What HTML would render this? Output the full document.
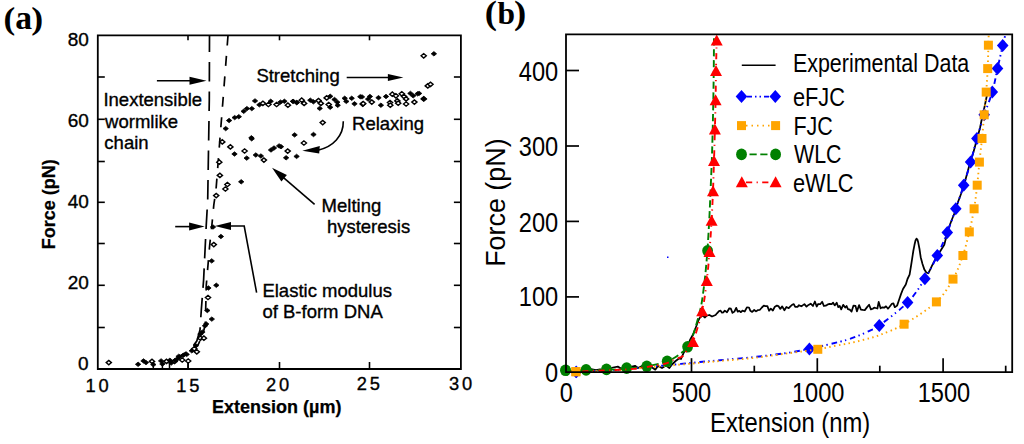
<!DOCTYPE html>
<html><head><meta charset="utf-8"><title>Force-extension figure</title>
<style>html,body{margin:0;padding:0;background:#fff;} svg{display:block;}</style></head>
<body><svg width="1024" height="444" viewBox="0 0 1024 444">
<rect width="1024" height="444" fill="#fff"/>
<text transform="translate(3.59,28.50) scale(1.1000,1)" style="font-family:'Liberation Serif',serif;font-size:32px;font-weight:bold" fill="#000">(</text>
<text transform="translate(15.19,28.50)" style="font-family:'Liberation Serif',serif;font-size:33.7px;font-weight:bold" fill="#000">a</text>
<text transform="translate(31.22,28.50) scale(1.1200,1)" style="font-family:'Liberation Serif',serif;font-size:32px;font-weight:bold" fill="#000">)</text>
<path d="M97.8,35.3 H460.9 V369.0 H97.8 Z" stroke="#000" stroke-width="1.8" fill="none" />
<line x1="97.8" y1="77.0" x2="104.8" y2="77.0" stroke="#000" stroke-width="1.6" />
<line x1="453.9" y1="77.0" x2="460.9" y2="77.0" stroke="#000" stroke-width="1.6" />
<line x1="97.8" y1="119.3" x2="104.8" y2="119.3" stroke="#000" stroke-width="1.6" />
<line x1="453.9" y1="119.3" x2="460.9" y2="119.3" stroke="#000" stroke-width="1.6" />
<line x1="97.8" y1="161.5" x2="104.8" y2="161.5" stroke="#000" stroke-width="1.6" />
<line x1="453.9" y1="161.5" x2="460.9" y2="161.5" stroke="#000" stroke-width="1.6" />
<line x1="97.8" y1="202.3" x2="104.8" y2="202.3" stroke="#000" stroke-width="1.6" />
<line x1="453.9" y1="202.3" x2="460.9" y2="202.3" stroke="#000" stroke-width="1.6" />
<line x1="97.8" y1="243.5" x2="104.8" y2="243.5" stroke="#000" stroke-width="1.6" />
<line x1="453.9" y1="243.5" x2="460.9" y2="243.5" stroke="#000" stroke-width="1.6" />
<line x1="97.8" y1="285.3" x2="104.8" y2="285.3" stroke="#000" stroke-width="1.6" />
<line x1="453.9" y1="285.3" x2="460.9" y2="285.3" stroke="#000" stroke-width="1.6" />
<line x1="97.8" y1="327.5" x2="104.8" y2="327.5" stroke="#000" stroke-width="1.6" />
<line x1="453.9" y1="327.5" x2="460.9" y2="327.5" stroke="#000" stroke-width="1.6" />
<line x1="188.0" y1="369.0" x2="188.0" y2="362.0" stroke="#000" stroke-width="1.6" />
<line x1="188.0" y1="35.3" x2="188.0" y2="40.3" stroke="#000" stroke-width="1.6" />
<line x1="279.5" y1="369.0" x2="279.5" y2="362.0" stroke="#000" stroke-width="1.6" />
<line x1="279.5" y1="35.3" x2="279.5" y2="40.3" stroke="#000" stroke-width="1.6" />
<line x1="369.5" y1="369.0" x2="369.5" y2="362.0" stroke="#000" stroke-width="1.6" />
<line x1="369.5" y1="35.3" x2="369.5" y2="40.3" stroke="#000" stroke-width="1.6" />
<text transform="translate(67.67,45.60)" style="font-family:'Liberation Sans',sans-serif;font-size:19px;font-weight:normal;stroke:#000;stroke-width:0.35px" fill="#000">80</text>
<text transform="translate(67.67,127.00)" style="font-family:'Liberation Sans',sans-serif;font-size:19px;font-weight:normal;stroke:#000;stroke-width:0.35px" fill="#000">60</text>
<text transform="translate(67.67,208.30)" style="font-family:'Liberation Sans',sans-serif;font-size:19px;font-weight:normal;stroke:#000;stroke-width:0.35px" fill="#000">40</text>
<text transform="translate(67.67,289.30)" style="font-family:'Liberation Sans',sans-serif;font-size:19px;font-weight:normal;stroke:#000;stroke-width:0.35px" fill="#000">20</text>
<text transform="translate(78.12,369.50)" style="font-family:'Liberation Sans',sans-serif;font-size:19px;font-weight:normal;stroke:#000;stroke-width:0.35px" fill="#000">0</text>
<text transform="translate(85.54,391.50)" style="font-family:'Liberation Sans',sans-serif;font-size:18.3px;font-weight:normal;letter-spacing:2.8px;stroke:#000;stroke-width:0.35px" fill="#000">10</text>
<text transform="translate(176.34,391.50)" style="font-family:'Liberation Sans',sans-serif;font-size:18.3px;font-weight:normal;letter-spacing:2.8px;stroke:#000;stroke-width:0.35px" fill="#000">15</text>
<text transform="translate(266.08,390.90)" style="font-family:'Liberation Sans',sans-serif;font-size:18.3px;font-weight:normal;letter-spacing:2.8px;stroke:#000;stroke-width:0.35px" fill="#000">20</text>
<text transform="translate(356.78,390.30)" style="font-family:'Liberation Sans',sans-serif;font-size:18.3px;font-weight:normal;letter-spacing:2.8px;stroke:#000;stroke-width:0.35px" fill="#000">25</text>
<text transform="translate(448.97,390.10)" style="font-family:'Liberation Sans',sans-serif;font-size:18.3px;font-weight:normal;letter-spacing:2.8px;stroke:#000;stroke-width:0.35px" fill="#000">30</text>
<text transform="translate(212.04,413.00)" style="font-family:'Liberation Sans',sans-serif;font-size:18px;font-weight:bold;stroke:#000;stroke-width:0.25px" fill="#000">Extension (µm)</text>
<text transform="translate(55.20,249.26) rotate(-90)" style="font-family:'Liberation Sans',sans-serif;font-size:18px;font-weight:bold;stroke:#000;stroke-width:0.25px">Force (pN)</text>
<text transform="translate(103.43,106.20)" style="font-family:'Liberation Sans',sans-serif;font-size:18.5px;font-weight:normal;stroke:#000;stroke-width:0.35px" fill="#000">Inextensible</text>
<text transform="translate(105.10,127.60)" style="font-family:'Liberation Sans',sans-serif;font-size:18.5px;font-weight:normal;stroke:#000;stroke-width:0.35px" fill="#000">wormlike</text>
<text transform="translate(104.36,149.00)" style="font-family:'Liberation Sans',sans-serif;font-size:18.5px;font-weight:normal;stroke:#000;stroke-width:0.35px" fill="#000">chain</text>
<text transform="translate(256.38,82.00)" style="font-family:'Liberation Sans',sans-serif;font-size:18.5px;font-weight:normal;stroke:#000;stroke-width:0.35px" fill="#000">Stretching</text>
<text transform="translate(352.02,130.00)" style="font-family:'Liberation Sans',sans-serif;font-size:18.5px;font-weight:normal;stroke:#000;stroke-width:0.35px" fill="#000">Relaxing</text>
<text transform="translate(321.62,211.50)" style="font-family:'Liberation Sans',sans-serif;font-size:18.5px;font-weight:normal;stroke:#000;stroke-width:0.35px" fill="#000">Melting</text>
<text transform="translate(326.90,233.40)" style="font-family:'Liberation Sans',sans-serif;font-size:18.5px;font-weight:normal;stroke:#000;stroke-width:0.35px" fill="#000">hysteresis</text>
<text transform="translate(262.42,297.10)" style="font-family:'Liberation Sans',sans-serif;font-size:18.5px;font-weight:normal;stroke:#000;stroke-width:0.35px" fill="#000">Elastic modulus</text>
<text transform="translate(262.46,318.30)" style="font-family:'Liberation Sans',sans-serif;font-size:18.5px;font-weight:normal;stroke:#000;stroke-width:0.35px" fill="#000">of B-form DNA</text>
<line x1="156.9" y1="80.8" x2="192.9" y2="80.8" stroke="#000" stroke-width="1.6" />
<polygon points="206.5,80.8 189.5,76.8 189.5,84.8" fill="#000"/>
<line x1="346.7" y1="77.5" x2="391.0" y2="77.5" stroke="#000" stroke-width="1.6" />
<polygon points="403.4,77.5 387.9,73.9 387.9,81.1" fill="#000"/>
<line x1="175.2" y1="226.6" x2="192.2" y2="226.6" stroke="#000" stroke-width="1.6" />
<polygon points="204.6,226.6 189.1,222.6 189.1,230.6" fill="#000"/>
<polygon points="214.8,226.0 231.0,221.9 231.0,230.1" fill="#000"/>
<path d="M229,226 H244.2 L256.6,292.7" stroke="#000" stroke-width="1.6" fill="none" />
<line x1="314.6" y1="204.4" x2="282.6190278541826" y2="176.92339012824144" stroke="#000" stroke-width="1.6" />
<polygon points="272.0,167.8 286.9,175.0 281.4,181.4" fill="#000"/>
<path d="M343.3,121.3 C343.5,136 333,147 318,150.2" stroke="#000" stroke-width="1.6" fill="none" />
<polygon points="302.3,150.8 319.8,146.0 319.2,153.6" fill="#000"/>
<path d="M209.5,35.5 L209.3,100 L208.5,150 L207.7,200 L206.2,226 L203.6,280 L201.3,310 L200.0,330 L196.8,341 L190,350 L180,356" stroke="#000" stroke-width="1.7" fill="none" stroke-dasharray="19.5,10" stroke-dashoffset="3"/>
<path d="M228,35.5 L223,100 L220,138 L216,190 L213.8,205 L211.7,227 L209.7,245 L206.3,285 L205.3,324 L203,334 L198,345 L190,352" stroke="#000" stroke-width="1.7" fill="none" stroke-dasharray="10,10.5" stroke-dashoffset="0"/>
<polygon points="106.2,362.6 108.8,360.4 111.4,362.6 108.8,364.8" fill="#fff" stroke="#000" stroke-width="1.4"/>
<polygon points="135.4,364.3 138.1,362.1 140.8,364.3 138.1,366.5" fill="#000" stroke="#000" stroke-width="0.8"/>
<polygon points="140.8,360.9 143.5,358.7 146.2,360.9 143.5,363.1" fill="#000" stroke="#000" stroke-width="0.8"/>
<polygon points="143.3,362.6 146.0,360.4 148.7,362.6 146.0,364.8" fill="#000" stroke="#000" stroke-width="0.8"/>
<polygon points="149.4,361.4 152.0,359.2 154.6,361.4 152.0,363.6" fill="#fff" stroke="#000" stroke-width="1.4"/>
<polygon points="150.6,364.6 153.3,362.4 156.0,364.6 153.3,366.8" fill="#000" stroke="#000" stroke-width="0.8"/>
<polygon points="158.4,360.9 161.1,358.7 163.8,360.9 161.1,363.1" fill="#000" stroke="#000" stroke-width="0.8"/>
<polygon points="159.7,364.0 162.4,361.8 165.1,364.0 162.4,366.2" fill="#000" stroke="#000" stroke-width="0.8"/>
<polygon points="163.9,361.4 166.5,359.2 169.1,361.4 166.5,363.6" fill="#fff" stroke="#000" stroke-width="1.4"/>
<polygon points="167.2,360.3 169.9,358.1 172.6,360.3 169.9,362.5" fill="#000" stroke="#000" stroke-width="0.8"/>
<polygon points="168.5,363.0 171.2,360.8 173.9,363.0 171.2,365.2" fill="#000" stroke="#000" stroke-width="0.8"/>
<polygon points="172.0,361.4 174.6,359.2 177.2,361.4 174.6,363.6" fill="#fff" stroke="#000" stroke-width="1.4"/>
<polygon points="172.4,360.5 175.1,358.3 177.8,360.5 175.1,362.7" fill="#000" stroke="#000" stroke-width="0.8"/>
<polygon points="174.6,358.9 177.3,356.7 180.0,358.9 177.3,361.1" fill="#000" stroke="#000" stroke-width="0.8"/>
<polygon points="175.9,356.4 178.6,354.2 181.3,356.4 178.6,358.6" fill="#000" stroke="#000" stroke-width="0.8"/>
<polygon points="176.8,356.8 179.5,354.6 182.2,356.8 179.5,359.0" fill="#000" stroke="#000" stroke-width="0.8"/>
<polygon points="179.6,360.0 182.2,357.8 184.8,360.0 182.2,362.2" fill="#fff" stroke="#000" stroke-width="1.4"/>
<polygon points="180.5,355.4 183.2,353.2 185.9,355.4 183.2,357.6" fill="#000" stroke="#000" stroke-width="0.8"/>
<polygon points="184.0,354.4 186.7,352.2 189.4,354.4 186.7,356.6" fill="#000" stroke="#000" stroke-width="0.8"/>
<polygon points="185.6,361.0 188.2,358.8 190.8,361.0 188.2,363.2" fill="#fff" stroke="#000" stroke-width="1.4"/>
<polygon points="189.1,350.8 191.8,348.6 194.5,350.8 191.8,353.0" fill="#000" stroke="#000" stroke-width="0.8"/>
<polygon points="191.7,348.8 194.3,346.6 196.9,348.8 194.3,351.0" fill="#fff" stroke="#000" stroke-width="1.4"/>
<polygon points="194.2,351.8 196.8,349.6 199.4,351.8 196.8,354.0" fill="#fff" stroke="#000" stroke-width="1.4"/>
<polygon points="193.1,345.8 195.8,343.6 198.5,345.8 195.8,348.0" fill="#000" stroke="#000" stroke-width="0.8"/>
<polygon points="197.7,334.1 200.4,331.9 203.1,334.1 200.4,336.3" fill="#000" stroke="#000" stroke-width="0.8"/>
<polygon points="199.7,332.1 202.4,329.9 205.1,332.1 202.4,334.3" fill="#000" stroke="#000" stroke-width="0.8"/>
<polygon points="197.8,338.2 200.4,336.0 203.0,338.2 200.4,340.4" fill="#fff" stroke="#000" stroke-width="1.4"/>
<polygon points="201.3,338.2 203.9,336.0 206.5,338.2 203.9,340.4" fill="#fff" stroke="#000" stroke-width="1.4"/>
<polygon points="202.3,325.8 205.0,323.6 207.7,325.8 205.0,328.0" fill="#000" stroke="#000" stroke-width="0.8"/>
<polygon points="203.5,324.0 206.2,321.8 208.9,324.0 206.2,326.2" fill="#000" stroke="#000" stroke-width="0.8"/>
<polygon points="209.1,319.1 211.8,316.9 214.5,319.1 211.8,321.3" fill="#000" stroke="#000" stroke-width="0.8"/>
<polygon points="204.6,310.5 207.3,308.3 210.0,310.5 207.3,312.7" fill="#000" stroke="#000" stroke-width="0.8"/>
<polygon points="205.4,297.5 208.0,295.3 210.6,297.5 208.0,299.7" fill="#fff" stroke="#000" stroke-width="1.4"/>
<polygon points="205.7,288.0 208.4,285.8 211.1,288.0 208.4,290.2" fill="#000" stroke="#000" stroke-width="0.8"/>
<polygon points="213.6,285.3 216.3,283.1 219.0,285.3 216.3,287.5" fill="#000" stroke="#000" stroke-width="0.8"/>
<polygon points="218.2,236.5 220.9,234.3 223.6,236.5 220.9,238.7" fill="#000" stroke="#000" stroke-width="0.8"/>
<polygon points="211.2,244.6 213.8,242.4 216.4,244.6 213.8,246.8" fill="#fff" stroke="#000" stroke-width="1.4"/>
<polygon points="209.0,260.9 211.7,258.7 214.4,260.9 211.7,263.1" fill="#000" stroke="#000" stroke-width="0.8"/>
<polygon points="210.3,227.0 213.0,224.8 215.7,227.0 213.0,229.2" fill="#000" stroke="#000" stroke-width="0.8"/>
<polygon points="216.7,162.2 219.3,160.0 221.9,162.2 219.3,164.4" fill="#fff" stroke="#000" stroke-width="1.4"/>
<polygon points="217.3,175.4 219.9,173.2 222.5,175.4 219.9,177.6" fill="#fff" stroke="#000" stroke-width="1.4"/>
<polygon points="224.8,184.5 227.4,182.3 230.0,184.5 227.4,186.7" fill="#fff" stroke="#000" stroke-width="1.4"/>
<polygon points="222.8,189.0 225.4,186.8 228.0,189.0 225.4,191.2" fill="#fff" stroke="#000" stroke-width="1.4"/>
<polygon points="213.6,195.6 216.2,193.4 218.8,195.6 216.2,197.8" fill="#fff" stroke="#000" stroke-width="1.4"/>
<polygon points="238.5,181.8 241.2,179.6 243.9,181.8 241.2,184.0" fill="#000" stroke="#000" stroke-width="0.8"/>
<polygon points="223.0,128.6 225.7,126.4 228.4,128.6 225.7,130.8" fill="#000" stroke="#000" stroke-width="0.8"/>
<polygon points="226.4,120.5 229.1,118.3 231.8,120.5 229.1,122.7" fill="#000" stroke="#000" stroke-width="0.8"/>
<polygon points="232.0,117.6 234.7,115.4 237.4,117.6 234.7,119.8" fill="#000" stroke="#000" stroke-width="0.8"/>
<polygon points="236.1,116.7 238.8,114.5 241.5,116.7 238.8,118.9" fill="#000" stroke="#000" stroke-width="0.8"/>
<polygon points="241.0,111.3 243.7,109.1 246.4,111.3 243.7,113.5" fill="#000" stroke="#000" stroke-width="0.8"/>
<polygon points="244.2,108.6 246.9,106.4 249.6,108.6 246.9,110.8" fill="#000" stroke="#000" stroke-width="0.8"/>
<polygon points="249.1,108.6 251.8,106.4 254.5,108.6 251.8,110.8" fill="#000" stroke="#000" stroke-width="0.8"/>
<polygon points="252.3,100.9 255.0,98.7 257.7,100.9 255.0,103.1" fill="#000" stroke="#000" stroke-width="0.8"/>
<polygon points="256.7,104.8 259.4,102.6 262.1,104.8 259.4,107.0" fill="#000" stroke="#000" stroke-width="0.8"/>
<polygon points="260.3,103.3 262.9,101.1 265.5,103.3 262.9,105.5" fill="#fff" stroke="#000" stroke-width="1.4"/>
<polygon points="265.8,104.5 268.4,102.3 271.0,104.5 268.4,106.7" fill="#fff" stroke="#000" stroke-width="1.4"/>
<polygon points="268.0,101.3 270.7,99.1 273.4,101.3 270.7,103.5" fill="#000" stroke="#000" stroke-width="0.8"/>
<polygon points="274.0,104.5 276.6,102.3 279.2,104.5 276.6,106.7" fill="#fff" stroke="#000" stroke-width="1.4"/>
<polygon points="277.8,102.1 280.5,99.9 283.2,102.1 280.5,104.3" fill="#000" stroke="#000" stroke-width="0.8"/>
<polygon points="281.7,101.3 284.4,99.1 287.1,101.3 284.4,103.5" fill="#000" stroke="#000" stroke-width="0.8"/>
<polygon points="285.3,105.2 287.9,103.0 290.5,105.2 287.9,107.4" fill="#fff" stroke="#000" stroke-width="1.4"/>
<polygon points="290.3,101.3 293.0,99.1 295.7,101.3 293.0,103.5" fill="#000" stroke="#000" stroke-width="0.8"/>
<polygon points="294.2,102.5 296.9,100.3 299.6,102.5 296.9,104.7" fill="#000" stroke="#000" stroke-width="0.8"/>
<polygon points="290.4,101.4 293.1,99.2 295.8,101.4 293.1,103.6" fill="#000" stroke="#000" stroke-width="0.8"/>
<polygon points="293.9,102.6 296.6,100.4 299.3,102.6 296.6,104.8" fill="#000" stroke="#000" stroke-width="0.8"/>
<polygon points="299.1,100.2 301.7,98.0 304.3,100.2 301.7,102.4" fill="#fff" stroke="#000" stroke-width="1.4"/>
<polygon points="301.5,103.4 304.1,101.2 306.7,103.4 304.1,105.6" fill="#fff" stroke="#000" stroke-width="1.4"/>
<polygon points="307.6,100.2 310.3,98.0 313.0,100.2 310.3,102.4" fill="#000" stroke="#000" stroke-width="0.8"/>
<polygon points="310.7,101.8 313.4,99.6 316.1,101.8 313.4,104.0" fill="#000" stroke="#000" stroke-width="0.8"/>
<polygon points="315.9,100.6 318.5,98.4 321.1,100.6 318.5,102.8" fill="#fff" stroke="#000" stroke-width="1.4"/>
<polygon points="318.3,103.4 320.9,101.2 323.5,103.4 320.9,105.6" fill="#fff" stroke="#000" stroke-width="1.4"/>
<polygon points="317.0,108.4 319.7,106.2 322.4,108.4 319.7,110.6" fill="#000" stroke="#000" stroke-width="0.8"/>
<polygon points="324.1,97.9 326.7,95.7 329.3,97.9 326.7,100.1" fill="#fff" stroke="#000" stroke-width="1.4"/>
<polygon points="327.5,96.3 330.2,94.1 332.9,96.3 330.2,98.5" fill="#000" stroke="#000" stroke-width="0.8"/>
<polygon points="326.1,104.5 328.7,102.3 331.3,104.5 328.7,106.7" fill="#fff" stroke="#000" stroke-width="1.4"/>
<polygon points="327.5,107.3 330.2,105.1 332.9,107.3 330.2,109.5" fill="#000" stroke="#000" stroke-width="0.8"/>
<polygon points="331.8,99.5 334.5,97.3 337.2,99.5 334.5,101.7" fill="#000" stroke="#000" stroke-width="0.8"/>
<polygon points="334.6,102.2 337.3,100.0 340.0,102.2 337.3,104.4" fill="#000" stroke="#000" stroke-width="0.8"/>
<polygon points="335.0,105.3 337.7,103.1 340.4,105.3 337.7,107.5" fill="#000" stroke="#000" stroke-width="0.8"/>
<polygon points="342.0,98.3 344.7,96.1 347.4,98.3 344.7,100.5" fill="#000" stroke="#000" stroke-width="0.8"/>
<polygon points="343.6,101.4 346.3,99.2 349.0,101.4 346.3,103.6" fill="#000" stroke="#000" stroke-width="0.8"/>
<polygon points="349.0,98.3 351.7,96.1 354.4,98.3 351.7,100.5" fill="#000" stroke="#000" stroke-width="0.8"/>
<polygon points="351.8,103.8 354.5,101.6 357.2,103.8 354.5,106.0" fill="#000" stroke="#000" stroke-width="0.8"/>
<polygon points="357.6,96.7 360.3,94.5 363.0,96.7 360.3,98.9" fill="#000" stroke="#000" stroke-width="0.8"/>
<polygon points="360.1,104.1 362.7,101.9 365.3,104.1 362.7,106.3" fill="#fff" stroke="#000" stroke-width="1.4"/>
<polygon points="365.4,99.1 368.1,96.9 370.8,99.1 368.1,101.3" fill="#000" stroke="#000" stroke-width="0.8"/>
<polygon points="359.3,96.9 362.0,94.7 364.7,96.9 362.0,99.1" fill="#000" stroke="#000" stroke-width="0.8"/>
<polygon points="360.6,103.6 363.2,101.4 365.8,103.6 363.2,105.8" fill="#fff" stroke="#000" stroke-width="1.4"/>
<polygon points="367.2,96.5 369.9,94.3 372.6,96.5 369.9,98.7" fill="#000" stroke="#000" stroke-width="0.8"/>
<polygon points="369.2,102.1 371.8,99.9 374.4,102.1 371.8,104.3" fill="#fff" stroke="#000" stroke-width="1.4"/>
<polygon points="375.8,97.7 378.5,95.5 381.2,97.7 378.5,99.9" fill="#000" stroke="#000" stroke-width="0.8"/>
<polygon points="378.2,105.2 380.9,103.0 383.6,105.2 380.9,107.4" fill="#000" stroke="#000" stroke-width="0.8"/>
<polygon points="383.3,96.5 386.0,94.3 388.7,96.5 386.0,98.7" fill="#000" stroke="#000" stroke-width="0.8"/>
<polygon points="387.4,102.5 390.0,100.3 392.6,102.5 390.0,104.7" fill="#fff" stroke="#000" stroke-width="1.4"/>
<polygon points="387.7,105.2 390.3,103.0 392.9,105.2 390.3,107.4" fill="#fff" stroke="#000" stroke-width="1.4"/>
<polygon points="389.7,94.2 392.3,92.0 394.9,94.2 392.3,96.4" fill="#fff" stroke="#000" stroke-width="1.4"/>
<polygon points="393.3,95.8 395.9,93.6 398.5,95.8 395.9,98.0" fill="#fff" stroke="#000" stroke-width="1.4"/>
<polygon points="394.8,100.9 397.4,98.7 400.0,100.9 397.4,103.1" fill="#fff" stroke="#000" stroke-width="1.4"/>
<polygon points="395.6,103.2 398.2,101.0 400.8,103.2 398.2,105.4" fill="#fff" stroke="#000" stroke-width="1.4"/>
<polygon points="399.2,93.8 401.8,91.6 404.4,93.8 401.8,96.0" fill="#fff" stroke="#000" stroke-width="1.4"/>
<polygon points="401.5,96.5 404.1,94.3 406.7,96.5 404.1,98.7" fill="#fff" stroke="#000" stroke-width="1.4"/>
<polygon points="403.5,98.9 406.1,96.7 408.7,98.9 406.1,101.1" fill="#fff" stroke="#000" stroke-width="1.4"/>
<polygon points="403.5,104.0 406.1,101.8 408.7,104.0 406.1,106.2" fill="#fff" stroke="#000" stroke-width="1.4"/>
<polygon points="407.7,93.4 410.4,91.2 413.1,93.4 410.4,95.6" fill="#000" stroke="#000" stroke-width="0.8"/>
<polygon points="410.5,95.8 413.2,93.6 415.9,95.8 413.2,98.0" fill="#000" stroke="#000" stroke-width="0.8"/>
<polygon points="411.8,102.1 414.4,99.9 417.0,102.1 414.4,104.3" fill="#fff" stroke="#000" stroke-width="1.4"/>
<polygon points="416.4,93.4 419.1,91.2 421.8,93.4 419.1,95.6" fill="#000" stroke="#000" stroke-width="0.8"/>
<polygon points="421.2,98.9 423.8,96.7 426.4,98.9 423.8,101.1" fill="#fff" stroke="#000" stroke-width="1.4"/>
<polygon points="425.2,85.9 427.8,83.7 430.4,85.9 427.8,88.1" fill="#fff" stroke="#000" stroke-width="1.4"/>
<polygon points="427.9,84.3 430.5,82.1 433.1,84.3 430.5,86.5" fill="#fff" stroke="#000" stroke-width="1.4"/>
<polygon points="421.0,98.8 423.7,96.6 426.4,98.8 423.7,101.0" fill="#000" stroke="#000" stroke-width="0.8"/>
<polygon points="414.9,93.8 417.6,91.6 420.3,93.8 417.6,96.0" fill="#000" stroke="#000" stroke-width="0.8"/>
<polygon points="421.1,55.8 423.7,53.6 426.3,55.8 423.7,58.0" fill="#fff" stroke="#000" stroke-width="1.4"/>
<polygon points="431.2,53.8 433.9,51.6 436.6,53.8 433.9,56.0" fill="#000" stroke="#000" stroke-width="0.8"/>
<polygon points="320.1,122.6 322.7,120.4 325.3,122.6 322.7,124.8" fill="#fff" stroke="#000" stroke-width="1.4"/>
<polygon points="219.7,141.9 222.3,139.7 224.9,141.9 222.3,144.1" fill="#fff" stroke="#000" stroke-width="1.4"/>
<polygon points="227.8,146.9 230.4,144.7 233.0,146.9 230.4,149.1" fill="#fff" stroke="#000" stroke-width="1.4"/>
<polygon points="231.8,154.0 234.5,151.8 237.2,154.0 234.5,156.2" fill="#000" stroke="#000" stroke-width="0.8"/>
<polygon points="242.0,151.0 244.6,148.8 247.2,151.0 244.6,153.2" fill="#fff" stroke="#000" stroke-width="1.4"/>
<polygon points="244.0,158.1 246.7,155.9 249.4,158.1 246.7,160.3" fill="#000" stroke="#000" stroke-width="0.8"/>
<polygon points="249.0,138.8 251.7,136.6 254.4,138.8 251.7,141.0" fill="#000" stroke="#000" stroke-width="0.8"/>
<polygon points="253.1,155.0 255.8,152.8 258.5,155.0 255.8,157.2" fill="#000" stroke="#000" stroke-width="0.8"/>
<polygon points="258.2,156.0 260.9,153.8 263.6,156.0 260.9,158.2" fill="#000" stroke="#000" stroke-width="0.8"/>
<polygon points="261.3,160.1 263.9,157.9 266.5,160.1 263.9,162.3" fill="#fff" stroke="#000" stroke-width="1.4"/>
<polygon points="268.3,150.0 271.0,147.8 273.7,150.0 271.0,152.2" fill="#000" stroke="#000" stroke-width="0.8"/>
<polygon points="271.3,148.0 274.0,145.8 276.7,148.0 274.0,150.2" fill="#000" stroke="#000" stroke-width="0.8"/>
<polygon points="276.4,145.9 279.1,143.7 281.8,145.9 279.1,148.1" fill="#000" stroke="#000" stroke-width="0.8"/>
<polygon points="285.1,151.1 287.7,148.9 290.3,151.1 287.7,153.3" fill="#fff" stroke="#000" stroke-width="1.4"/>
<polygon points="283.4,157.8 286.1,155.6 288.8,157.8 286.1,160.0" fill="#000" stroke="#000" stroke-width="0.8"/>
<polygon points="293.9,156.4 296.6,154.2 299.3,156.4 296.6,158.6" fill="#000" stroke="#000" stroke-width="0.8"/>
<polygon points="291.9,134.9 294.6,132.7 297.3,134.9 294.6,137.1" fill="#000" stroke="#000" stroke-width="0.8"/>
<polygon points="301.3,143.0 303.9,140.8 306.5,143.0 303.9,145.2" fill="#fff" stroke="#000" stroke-width="1.4"/>
<polygon points="310.8,134.5 313.5,132.3 316.2,134.5 313.5,136.7" fill="#000" stroke="#000" stroke-width="0.8"/>
<polygon points="278.3,146.7 281.0,144.5 283.7,146.7 281.0,148.9" fill="#000" stroke="#000" stroke-width="0.8"/>
<polygon points="248.7,137.8 251.4,135.6 254.1,137.8 251.4,140.0" fill="#000" stroke="#000" stroke-width="0.8"/>
<line x1="153.3" y1="362" x2="153.3" y2="369.0" stroke="#000" stroke-width="1.5" />
<line x1="162.4" y1="362" x2="162.4" y2="369.0" stroke="#000" stroke-width="1.5" />
<line x1="169.5" y1="362" x2="169.5" y2="369.0" stroke="#000" stroke-width="1.5" />
<line x1="188.2" y1="362" x2="188.2" y2="369.0" stroke="#000" stroke-width="1.5" />
<text transform="translate(484.83,24.30) scale(1.1200,1)" style="font-family:'Liberation Serif',serif;font-size:32.8px;font-weight:bold" fill="#000">(</text>
<text transform="translate(497.49,24.30)" style="font-family:'Liberation Serif',serif;font-size:31.5px;font-weight:bold" fill="#000">b</text>
<text transform="translate(513.90,24.30) scale(1.1200,1)" style="font-family:'Liberation Serif',serif;font-size:32.8px;font-weight:bold" fill="#000">)</text>
<text transform="translate(518.79,81.10) scale(0.8750,1)" style="font-family:'Liberation Sans',sans-serif;font-size:27.0px;font-weight:normal" fill="#000">400</text>
<text transform="translate(518.79,156.00) scale(0.8750,1)" style="font-family:'Liberation Sans',sans-serif;font-size:27.0px;font-weight:normal" fill="#000">300</text>
<text transform="translate(518.79,231.60) scale(0.8750,1)" style="font-family:'Liberation Sans',sans-serif;font-size:27.0px;font-weight:normal" fill="#000">200</text>
<text transform="translate(518.79,306.00) scale(0.8750,1)" style="font-family:'Liberation Sans',sans-serif;font-size:27.0px;font-weight:normal" fill="#000">100</text>
<text transform="translate(545.01,382.30) scale(0.8750,1)" style="font-family:'Liberation Sans',sans-serif;font-size:27.0px;font-weight:normal" fill="#000">0</text>
<text transform="translate(559.75,401.50) scale(0.8750,1)" style="font-family:'Liberation Sans',sans-serif;font-size:27.0px;font-weight:normal" fill="#000">0</text>
<text transform="translate(671.85,401.80) scale(0.8750,1)" style="font-family:'Liberation Sans',sans-serif;font-size:27.0px;font-weight:normal" fill="#000">500</text>
<text transform="translate(791.91,401.80) scale(0.8750,1)" style="font-family:'Liberation Sans',sans-serif;font-size:27.0px;font-weight:normal" fill="#000">1000</text>
<text transform="translate(917.71,401.80) scale(0.8750,1)" style="font-family:'Liberation Sans',sans-serif;font-size:27.0px;font-weight:normal" fill="#000">1500</text>
<text transform="translate(710.10,431.60) scale(0.8690,1)" style="font-family:'Liberation Sans',sans-serif;font-size:27.4px;font-weight:normal" fill="#000">Extension (nm)</text>
<text transform="translate(505.00,266.85) rotate(-90)" style="font-family:'Liberation Sans',sans-serif;font-size:26.9px;font-weight:normal">Force (pN)</text>
<text transform="translate(792.88,72.10) scale(0.8380,1)" style="font-family:'Liberation Sans',sans-serif;font-size:25.6px;font-weight:normal" fill="#000">Experimental Data</text>
<text transform="translate(792.93,105.70) scale(0.8500,1)" style="font-family:'Liberation Sans',sans-serif;font-size:25.6px;font-weight:normal" fill="#000">eFJC</text>
<text transform="translate(793.38,134.70) scale(0.8400,1)" style="font-family:'Liberation Sans',sans-serif;font-size:25.6px;font-weight:normal" fill="#000">FJC</text>
<text transform="translate(793.99,163.40) scale(0.8350,1)" style="font-family:'Liberation Sans',sans-serif;font-size:25.6px;font-weight:normal" fill="#000">WLC</text>
<text transform="translate(792.93,191.80) scale(0.8530,1)" style="font-family:'Liberation Sans',sans-serif;font-size:25.6px;font-weight:normal" fill="#000">eWLC</text>
<line x1="741.8" y1="65.2" x2="775.6" y2="65.2" stroke="#000" stroke-width="1.6" />
<line x1="747" y1="96.6" x2="770" y2="96.6" stroke="#0000ff" stroke-width="1.6" stroke-dasharray="5,3,1.5,3,1.5,3"/>
<polygon points="735.7,96.6 741.5,90.1 747.3,96.6 741.5,103.1" fill="#0000ff"/>
<polygon points="769.5,96.6 775.3,90.1 781.1,96.6 775.3,103.1" fill="#0000ff"/>
<line x1="746" y1="125.6" x2="771" y2="125.6" stroke="#ffa500" stroke-width="1.6" stroke-dasharray="1.5,4"/>
<rect x="737.0" y="121.1" width="9.0" height="9.0" fill="#ffa500"/>
<rect x="771.1" y="121.1" width="9.0" height="9.0" fill="#ffa500"/>
<line x1="746" y1="154.4" x2="771" y2="154.4" stroke="#008000" stroke-width="1.7" stroke-dasharray="7.2,3.6" stroke-dashoffset="-3.5"/>
<ellipse cx="741.5" cy="154.4" rx="5.4" ry="5.78" fill="#008000"/>
<ellipse cx="775.6" cy="154.4" rx="5.4" ry="5.78" fill="#008000"/>
<line x1="746" y1="182.3" x2="771" y2="182.3" stroke="#ff0000" stroke-width="1.7" stroke-dasharray="6.2,4.4,1.2,4.4"/>
<polygon points="735.8,187.3 741.8,176.3 747.8,187.3" fill="#ff0000"/>
<polygon points="769.6,187.3 775.6,176.3 781.6,187.3" fill="#ff0000"/>
<line x1="566.0" y1="70.5" x2="579.0" y2="70.5" stroke="#000" stroke-width="1.7" />
<line x1="566.0" y1="146.0" x2="579.0" y2="146.0" stroke="#000" stroke-width="1.7" />
<line x1="566.0" y1="221.4" x2="579.0" y2="221.4" stroke="#000" stroke-width="1.7" />
<line x1="566.0" y1="296.9" x2="579.0" y2="296.9" stroke="#000" stroke-width="1.7" />
<line x1="691.5" y1="372.2" x2="691.5" y2="358.2" stroke="#000" stroke-width="1.7" />
<line x1="817.3" y1="372.2" x2="817.3" y2="358.2" stroke="#000" stroke-width="1.7" />
<line x1="943.1" y1="372.2" x2="943.1" y2="358.2" stroke="#000" stroke-width="1.7" />
<line x1="628.7" y1="372.2" x2="628.7" y2="365.7" stroke="#000" stroke-width="1.7" />
<line x1="754.3" y1="372.2" x2="754.3" y2="365.7" stroke="#000" stroke-width="1.7" />
<line x1="879.8" y1="372.2" x2="879.8" y2="365.7" stroke="#000" stroke-width="1.7" />
<line x1="1005.7" y1="372.2" x2="1005.7" y2="365.7" stroke="#000" stroke-width="1.7" />
<clipPath id="cb"><rect x="566.0" y="34.4" width="446.20000000000005" height="343.8"/></clipPath>
<g clip-path="url(#cb)">
<polyline points="566,371.5 572,371 578,370.5 585,369.5 591,369 596,370 600,369.3 605,370 610,368.5 613,367.5 617.8,366.6 621,368.5 625,367 628,368.5 632,366.5 635,365.8 638,368 642,366 646,368 650,366 655.3,369.7 658,366 662,368 666,365.5 669.4,368 672,364.5 675.6,361 679,358.5 681,359 683.4,353.3 687,347 690,340 693.3,334 696,327 698.7,319.8 700,317.5 702.3,315.3 705,317.5 707,315.5 709.4,315 712,316.5 715.6,315 717.0,313.3 719.0,311.2 720.6,310.7 722.0,312.7 723.3,312.3 724.8,310.6 727.0,312.3 729.3,308.3 730.9,308.7 732.5,312.9 734.4,311.6 736.2,307.8 737.7,311.6 739.3,310.9 740.9,312.2 742.5,310.6 744.7,311.5 746.9,307.4 749.0,307.5 750.3,310.7 752.2,311.9 754.2,310.0 756.0,311.4 757.7,310.2 759.7,310.0 761.9,307.5 763.8,305.7 765.3,306.2 767.4,306.1 769.1,310.8 770.8,308.6 772.9,310.5 774.6,307.1 776.9,305.6 778.4,306.1 780.3,308.9 782.2,306.4 784.4,310.3 786.4,307.0 788.7,308.2 790.4,306.3 792.1,304.8 793.8,304.1 795.2,306.8 797.5,306.9 799.0,305.2 801.2,306.3 802.6,305.4 804.4,304.1 806.5,306.6 808.5,304.9 810.7,303.7 812.9,306.0 814.9,301.5 816.7,306.5 818.2,304.0 820.2,304.2 822.2,301.8 823.9,306.0 825.7,305.7 827.8,304.4 829.7,303.8 831.7,304.1 833.1,302.7 834.7,305.4 836.7,302.7 838.3,307.2 839.7,305.9 841.2,309.4 843.2,304.8 845.2,307.6 846.6,306.0 847.9,309.1 849.8,309.7 851.6,311.6 853.5,305.6 855.5,305.9 856.9,311.4 859.1,305.1 860.9,309.6 862.8,309.9 864.8,310.1 866.9,307.4 869.1,304.7 870.9,309.4 872.8,308.7 874.2,307.6 875.6,308.0 877.4,308.5 878.7,301.9 880.6,308.3 882.4,307.3 884.2,307.7 886.0,306.3 888.0,308.7 889.6,306.7 891.7,303.9 893.4,303.4 894.8,307.2 897.1,305.6 899,300 900.9,294.4 903,289 905.8,284.5 907.5,279 909.6,274.6 911,266 912,259.7 913.3,251 914.5,244.8 915.5,240.5 916.5,238.6 917.4,239.5 918.2,242.3 919.5,249 920.7,257.2 922.5,264 924.4,269.6 926.3,272.5 928.2,273.3 930,270 931.9,265.9 935,260 938.1,254.7 941,250 944.3,244.8 946,238 948,229.9 951.7,220 955,212 958,202 961,194 964,185 967,174 970,163 973.5,152 977,139 980,128 982,118 984.5,107 987,95" fill="none" stroke="#000" stroke-width="1.75" stroke-linejoin="round"/>
<path d="M566.00,372.30 C573.33,371.97 597.67,371.08 610.00,370.30 C622.33,369.52 630.10,368.48 640.00,367.60 C649.90,366.72 659.40,365.93 669.40,365.00 C679.40,364.07 691.57,362.80 700.00,362.00 C708.43,361.20 710.88,361.03 720.00,360.20 C729.12,359.37 743.87,358.17 754.70,357.00 C765.53,355.83 775.88,354.55 785.00,353.20 C794.12,351.85 802.57,350.25 809.40,348.90 C816.23,347.55 820.90,346.30 826.00,345.10 C831.10,343.90 836.00,342.73 840.00,341.70 C844.00,340.67 846.67,340.02 850.00,338.90 C853.33,337.78 856.67,336.38 860.00,335.00 C863.33,333.62 866.78,332.18 870.00,330.60 C873.22,329.02 873.03,330.20 879.30,325.50 C885.57,320.80 900.00,310.18 907.60,302.40 C915.20,294.62 919.95,286.62 924.90,278.80 C929.85,270.98 933.57,263.23 937.30,255.50 C941.03,247.77 944.22,240.18 947.30,232.40 C950.38,224.62 953.07,216.67 955.80,208.80 C958.53,200.93 961.23,192.98 963.70,185.20 C966.17,177.42 968.40,169.88 970.60,162.10 C972.80,154.32 974.63,146.38 976.90,138.50 C979.17,130.62 981.63,122.55 984.20,114.80 C986.77,107.05 990.08,99.70 992.30,92.00 C994.52,84.30 995.77,76.33 997.50,68.60 C999.23,60.87 1001.37,51.37 1002.70,45.60 C1004.03,39.83 1005.03,35.93 1005.50,34.00" stroke="#0000ff" stroke-width="1.9" fill="none" stroke-dasharray="5.6,3.4,1.4,3.4,1.4,3.9"/>
<polygon points="570.4,372.0 576.2,365.5 582.0,372.0 576.2,378.5" fill="#0000ff"/>
<polygon points="803.6,348.9 809.4,342.4 815.2,348.9 809.4,355.4" fill="#0000ff"/>
<polygon points="873.5,325.5 879.3,319.0 885.1,325.5 879.3,332.0" fill="#0000ff"/>
<polygon points="901.8,302.4 907.6,295.9 913.4,302.4 907.6,308.9" fill="#0000ff"/>
<polygon points="919.1,278.8 924.9,272.3 930.7,278.8 924.9,285.3" fill="#0000ff"/>
<polygon points="931.5,255.5 937.3,249.0 943.1,255.5 937.3,262.0" fill="#0000ff"/>
<polygon points="941.5,232.4 947.3,225.9 953.1,232.4 947.3,238.9" fill="#0000ff"/>
<polygon points="950.0,208.8 955.8,202.3 961.6,208.8 955.8,215.3" fill="#0000ff"/>
<polygon points="957.9,185.2 963.7,178.7 969.5,185.2 963.7,191.7" fill="#0000ff"/>
<polygon points="964.8,162.1 970.6,155.6 976.4,162.1 970.6,168.6" fill="#0000ff"/>
<polygon points="971.1,138.5 976.9,132.0 982.7,138.5 976.9,145.0" fill="#0000ff"/>
<polygon points="978.4,114.8 984.2,108.3 990.0,114.8 984.2,121.3" fill="#0000ff"/>
<polygon points="986.5,92.0 992.3,85.5 998.1,92.0 992.3,98.5" fill="#0000ff"/>
<polygon points="991.7,68.6 997.5,62.1 1003.3,68.6 997.5,75.1" fill="#0000ff"/>
<polygon points="996.9,45.6 1002.7,39.1 1008.5,45.6 1002.7,52.1" fill="#0000ff"/>
<path d="M566.00,372.30 C573.33,372.02 597.67,371.32 610.00,370.60 C622.33,369.88 630.10,368.83 640.00,368.00 C649.90,367.17 659.40,366.47 669.40,365.60 C679.40,364.73 691.57,363.57 700.00,362.80 C708.43,362.03 710.88,361.83 720.00,361.00 C729.12,360.17 743.03,359.13 754.70,357.80 C766.37,356.47 779.48,354.42 790.00,353.00 C800.52,351.58 810.30,350.50 817.80,349.30 C825.30,348.10 829.63,346.83 835.00,345.80 C840.37,344.77 845.00,344.17 850.00,343.10 C855.00,342.03 860.00,340.77 865.00,339.40 C870.00,338.03 873.48,337.43 880.00,334.90 C886.52,332.37 894.70,329.70 904.10,324.20 C913.50,318.70 928.25,309.42 936.40,301.90 C944.55,294.38 948.58,286.83 953.00,279.10 C957.42,271.37 960.18,263.37 962.90,255.50 C965.62,247.63 967.43,239.68 969.30,231.90 C971.17,224.12 972.78,216.58 974.10,208.80 C975.42,201.02 976.32,192.98 977.20,185.20 C978.08,177.42 978.60,169.88 979.40,162.10 C980.20,154.32 981.20,146.38 982.00,138.50 C982.80,130.62 983.50,122.53 984.20,114.80 C984.90,107.07 985.62,99.80 986.20,92.10 C986.78,84.40 987.33,76.42 987.70,68.60 C988.07,60.78 988.23,50.97 988.40,45.20 C988.57,39.43 988.65,35.87 988.70,34.00" stroke="#ffa500" stroke-width="1.9" fill="none" stroke-dasharray="1.5,3.4"/>
<rect x="571.4" y="367.2" width="9.0" height="9.0" fill="#ffa500"/>
<rect x="813.3" y="344.8" width="9.0" height="9.0" fill="#ffa500"/>
<rect x="899.6" y="319.7" width="9.0" height="9.0" fill="#ffa500"/>
<rect x="931.9" y="297.4" width="9.0" height="9.0" fill="#ffa500"/>
<rect x="948.5" y="274.6" width="9.0" height="9.0" fill="#ffa500"/>
<rect x="958.4" y="251.0" width="9.0" height="9.0" fill="#ffa500"/>
<rect x="964.8" y="227.4" width="9.0" height="9.0" fill="#ffa500"/>
<rect x="969.6" y="204.3" width="9.0" height="9.0" fill="#ffa500"/>
<rect x="972.7" y="180.7" width="9.0" height="9.0" fill="#ffa500"/>
<rect x="974.9" y="157.6" width="9.0" height="9.0" fill="#ffa500"/>
<rect x="977.5" y="134.0" width="9.0" height="9.0" fill="#ffa500"/>
<rect x="979.7" y="110.3" width="9.0" height="9.0" fill="#ffa500"/>
<rect x="981.7" y="87.6" width="9.0" height="9.0" fill="#ffa500"/>
<rect x="983.2" y="64.1" width="9.0" height="9.0" fill="#ffa500"/>
<rect x="983.9" y="40.7" width="9.0" height="9.0" fill="#ffa500"/>
<path d="M565.40,371.50 C568.85,371.35 579.25,370.88 586.10,370.60 C592.95,370.32 599.73,370.13 606.50,369.80 C613.27,369.47 619.98,369.18 626.70,368.60 C633.42,368.02 640.05,367.52 646.80,366.30 C653.55,365.08 661.67,363.35 667.20,361.30 C672.73,359.25 676.60,356.42 680.00,354.00 C683.40,351.58 685.60,349.47 687.60,346.80 C689.60,344.13 690.43,342.13 692.00,338.00 C693.57,333.87 695.45,327.50 697.00,322.00 C698.55,316.50 700.05,311.67 701.30,305.00 C702.55,298.33 703.63,289.17 704.50,282.00 C705.37,274.83 705.95,268.17 706.50,262.00 C707.05,255.83 707.30,252.83 707.80,245.00 C708.30,237.17 709.00,225.00 709.50,215.00 C710.00,205.00 710.38,195.00 710.80,185.00 C711.22,175.00 711.67,165.00 712.00,155.00 C712.33,145.00 712.57,135.00 712.80,125.00 C713.03,115.00 713.23,105.00 713.40,95.00 C713.57,85.00 713.70,75.17 713.80,65.00 C713.90,54.83 713.97,39.17 714.00,34.00" stroke="#008000" stroke-width="1.9" fill="none" stroke-dasharray="7.2,3.6"/>
<ellipse cx="565.4" cy="370.3" rx="5.4" ry="5.78" fill="#008000"/>
<ellipse cx="586.1" cy="369.9" rx="5.4" ry="5.78" fill="#008000"/>
<ellipse cx="606.5" cy="369.4" rx="5.4" ry="5.78" fill="#008000"/>
<ellipse cx="626.7" cy="368.1" rx="5.4" ry="5.78" fill="#008000"/>
<ellipse cx="646.8" cy="366.3" rx="5.4" ry="5.78" fill="#008000"/>
<ellipse cx="667.2" cy="361.3" rx="5.4" ry="5.78" fill="#008000"/>
<ellipse cx="687.6" cy="346.8" rx="5.4" ry="5.78" fill="#008000"/>
<ellipse cx="707.6" cy="250.8" rx="5.4" ry="5.78" fill="#008000"/>
<path d="M566.00,372.00 C569.43,371.88 580.05,371.55 586.60,371.30 C593.15,371.05 599.83,370.77 605.30,370.50 C610.77,370.23 614.72,369.97 619.40,369.70 C624.08,369.43 628.72,369.37 633.40,368.90 C638.08,368.43 643.90,367.47 647.50,366.90 C651.10,366.33 651.87,366.08 655.00,365.50 C658.13,364.92 663.38,364.27 666.30,363.40 C669.22,362.53 669.65,361.60 672.50,360.30 C675.35,359.00 680.82,357.73 683.40,355.60 C685.98,353.47 686.40,349.85 688.00,347.50 C689.60,345.15 690.63,347.62 693.00,341.50 C695.37,335.38 699.90,320.97 702.20,310.80 C704.50,300.63 705.58,290.40 706.80,280.50 C708.02,270.60 708.70,261.43 709.50,251.40 C710.30,241.37 711.02,230.42 711.60,220.30 C712.18,210.18 712.60,200.67 713.00,190.70 C713.40,180.73 713.68,170.78 714.00,160.50 C714.32,150.22 714.63,139.12 714.90,129.00 C715.17,118.88 715.42,109.55 715.60,99.80 C715.78,90.05 715.82,80.45 716.00,70.50 C716.18,60.55 716.53,46.18 716.70,40.10 C716.87,34.02 716.95,35.02 717.00,34.00" stroke="#ff0000" stroke-width="1.9" fill="none" stroke-dasharray="6.2,4.4,1.2,4.4"/>
<polygon points="687.0,347.0 693.0,336.0 699.0,347.0" fill="#ff0000"/>
<polygon points="696.2,316.3 702.2,305.3 708.2,316.3" fill="#ff0000"/>
<polygon points="700.8,286.0 706.8,275.0 712.8,286.0" fill="#ff0000"/>
<polygon points="703.5,256.9 709.5,245.9 715.5,256.9" fill="#ff0000"/>
<polygon points="705.6,225.8 711.6,214.8 717.6,225.8" fill="#ff0000"/>
<polygon points="707.0,196.2 713.0,185.2 719.0,196.2" fill="#ff0000"/>
<polygon points="708.0,166.0 714.0,155.0 720.0,166.0" fill="#ff0000"/>
<polygon points="708.9,134.5 714.9,123.5 720.9,134.5" fill="#ff0000"/>
<polygon points="709.6,105.3 715.6,94.3 721.6,105.3" fill="#ff0000"/>
<polygon points="710.0,76.0 716.0,65.0 722.0,76.0" fill="#ff0000"/>
<polygon points="710.7,45.6 716.7,34.6 722.7,45.6" fill="#ff0000"/>
</g>
<ellipse cx="565.4" cy="370.3" rx="5.4" ry="5.78" fill="#008000"/>
<rect x="571.4" y="367.2" width="9.0" height="9.0" fill="#ffa500"/>
<rect x="667" y="256.5" width="1.5" height="1.5" fill="#0000ff"/>
<path d="M566.0,34.4 H1012.2 V372.2 H566.0 Z" stroke="#000" stroke-width="1.8" fill="none" />
</svg></body></html>
